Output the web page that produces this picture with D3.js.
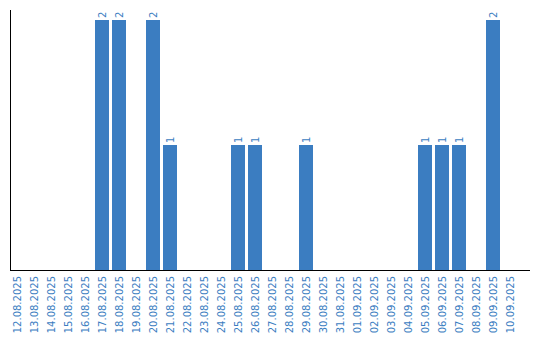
<!DOCTYPE html>
<html><head><meta charset="utf-8">
<script src="https://cdn.jsdelivr.net/npm/d3@7/dist/d3.min.js"></script>
<style>body{margin:0;background:#fff}svg{display:block}</style>
</head><body><svg id="c" width="540" height="340"></svg>
<script>
const categories = ["12.08.2025","13.08.2025","14.08.2025","15.08.2025","16.08.2025","17.08.2025","18.08.2025","19.08.2025","20.08.2025","21.08.2025","22.08.2025","23.08.2025","24.08.2025","25.08.2025","26.08.2025","27.08.2025","28.08.2025","29.08.2025","30.08.2025","31.08.2025","01.09.2025","02.09.2025","03.09.2025","04.09.2025","05.09.2025","06.09.2025","07.09.2025","08.09.2025","09.09.2025","10.09.2025"];
const values = [0,0,0,0,0,2,2,0,2,1,0,0,0,1,1,0,0,1,0,0,0,0,0,0,1,1,1,0,2,0];
const yMax = 2;

(function(){
const svg = d3.select("#c");
const color = "#3b7dc1";
const mLeft = 10, mRight = 530, mTop = 10, mBottom = 270;
const x = d3.scaleBand().domain(categories).range([mLeft, 517]).paddingInner(3/17).paddingOuter(0).align(0);
const y = d3.scaleLinear().domain([0, yMax]).range([mBottom, 20]);

const data = categories.map((c,i)=>({c, v: values[i]}));

svg.selectAll("rect.bar").data(data.filter(d=>d.v>0)).join("rect")
  .attr("class","bar")
  .attr("x", d=>x(d.c)).attr("width", x.bandwidth())
  .attr("y", d=>y(d.v)).attr("height", d=>y(0)-y(d.v))
  .attr("fill", color);

svg.selectAll("text.val").data(data.filter(d=>d.v>0)).join("text")
  .attr("class","val")
  .attr("transform", d=>`translate(${x(d.c)+x.bandwidth()/2+3.5},${y(d.v)-2}) rotate(-90)`)
  .attr("text-anchor","start")
  .attr("font-family","DejaVu Sans")
  .attr("font-size","10px")
  .attr("fill", color)
  .text(d=>d.v);

const xa = svg.append("g").attr("transform",`translate(0,${mBottom})`)
  .call(d3.axisBottom(x).tickSize(0).tickPadding(0));
xa.select(".domain").attr("d", `M${mLeft},0.5H${mRight}`).attr("stroke","#000");
xa.selectAll("text")
  .attr("transform","translate(0,6) rotate(-90)")
  .attr("dy","0.35em").attr("dx","0").attr("y",0).attr("x",0)
  .attr("text-anchor","end")
  .attr("font-family","DejaVu Sans").attr("font-size","10px")
  .attr("fill", color);

const ya = svg.append("g").attr("transform",`translate(${mLeft},0)`)
  .call(d3.axisLeft(y).tickValues([]).tickSize(0));
ya.select(".domain").attr("d", `M0.5,${mTop}V${mBottom}`).attr("stroke","#000");
})();
</script></body></html>
